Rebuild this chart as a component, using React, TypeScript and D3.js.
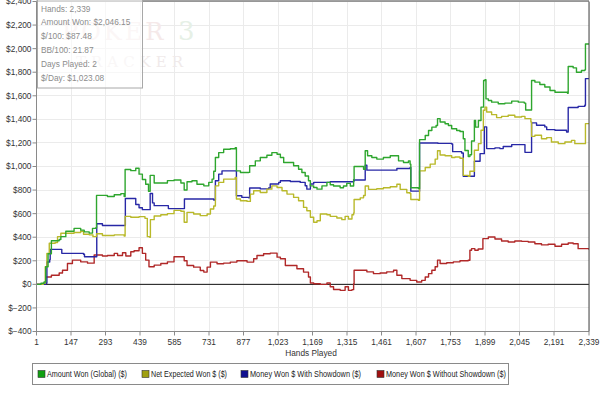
import React from 'react';
import * as d3 from 'd3';

// [hand, dollars]
const amountWon: [number, number][] = [
  [1,0],[20,10],[33,20],[40,150],[50,260],[64,370],[97,380],[104,405],[125,450],[160,475],[188,460],[203,445],[224,435],[238,475],[252,480],[255,755],[301,745],[330,760],[358,770],[372,745],[376,975],[400,965],[421,985],[435,935],[449,890],[463,850],[475,790],[482,925],[499,860],[527,860],[555,880],[583,885],[612,860],[626,800],[638,870],[659,879],[680,850],[709,836],[730,865],[744,893],[751,960],[758,1076],[772,1118],[793,1146],[821,1150],[842,1160],[847,963],[864,949],[899,950],[903,1006],[927,1048],[948,1076],[976,1095],[997,1118],[1019,1104],[1033,1076],[1047,1034],[1068,1034],[1089,1006],[1110,977],[1124,949],[1138,920],[1152,879],[1160,836],[1174,822],[1188,808],[1209,836],[1230,865],[1244,845],[1258,834],[1286,820],[1300,834],[1314,857],[1329,834],[1343,891],[1345,1000],[1378,1000],[1385,977],[1392,1134],[1402,1091],[1420,1077],[1441,1063],[1469,1077],[1498,1091],[1526,1091],[1533,1048],[1554,1034],[1575,1048],[1582,1020],[1585,820],[1617,812],[1622,1228],[1646,1263],[1660,1306],[1674,1334],[1692,1348],[1698,1406],[1709,1377],[1730,1363],[1744,1348],[1758,1320],[1779,1306],[1793,1297],[1807,1235],[1814,1136],[1828,1085],[1835,1100],[1842,1216],[1854,1390],[1859,1334],[1871,1390],[1882,1504],[1888,1504],[1893,1730],[1899,1736],[1903,1574],[1913,1560],[1927,1546],[1955,1532],[1983,1538],[2012,1555],[2040,1546],[2065,1538],[2071,1480],[2093,1480],[2096,1730],[2110,1716],[2131,1696],[2152,1674],[2174,1645],[2195,1630],[2223,1630],[2248,1622],[2251,1848],[2272,1837],[2286,1800],[2307,1814],[2321,1820],[2324,2040],[2339,2046],
];

const netExpected: [number, number][] = [
  [1,0],[30,10],[38,150],[45,263],[55,349],[80,355],[90,405],[104,434],[160,440],[188,450],[200,425],[224,420],[240,405],[255,430],[280,415],[330,420],[372,410],[376,577],[400,570],[435,575],[460,560],[470,405],[480,400],[483,549],[499,580],[527,590],[555,600],[583,628],[612,620],[626,527],[638,611],[666,597],[694,583],[723,597],[737,639],[751,665],[758,836],[772,865],[793,893],[821,893],[842,907],[847,724],[864,710],[892,704],[906,766],[920,794],[948,780],[976,808],[997,836],[1019,822],[1040,794],[1061,766],[1089,738],[1110,710],[1131,653],[1145,625],[1160,569],[1174,527],[1188,540],[1202,597],[1230,590],[1244,577],[1272,563],[1293,549],[1307,577],[1321,555],[1336,591],[1343,605],[1345,720],[1371,734],[1385,754],[1392,834],[1406,806],[1441,811],[1469,820],[1498,828],[1526,849],[1540,806],[1568,777],[1582,771],[1585,720],[1617,714],[1622,963],[1646,991],[1667,1020],[1688,1063],[1698,1134],[1709,1097],[1730,1091],[1758,1077],[1772,1081],[1793,1070],[1807,925],[1828,917],[1835,960],[1854,1138],[1871,1194],[1882,1307],[1892,1477],[1899,1504],[1906,1463],[1927,1440],[1948,1415],[1969,1425],[1997,1435],[2025,1420],[2054,1425],[2068,1406],[2093,1378],[2096,1256],[2110,1265],[2138,1236],[2160,1245],[2180,1208],[2209,1194],[2237,1208],[2265,1222],[2279,1194],[2314,1194],[2324,1364],[2339,1364],
];

const withShowdown: [number, number][] = [
  [1,0],[40,10],[45,190],[57,210],[59,297],[83,297],[108,263],[200,255],[204,234],[255,234],[256,514],[280,500],[376,500],[377,728],[405,728],[421,677],[435,650],[449,634],[481,634],[482,771],[492,691],[499,668],[556,668],[559,643],[626,643],[627,724],[751,716],[758,879],[772,935],[786,963],[842,963],[847,752],[870,738],[899,735],[903,817],[948,810],[983,817],[990,851],[1026,865],[1033,879],[1075,873],[1117,865],[1138,837],[1145,808],[1160,851],[1174,865],[1244,870],[1343,877],[1345,886],[1392,1011],[1399,969],[1455,969],[1526,983],[1582,991],[1585,791],[1617,791],[1622,1200],[1700,1196],[1758,1191],[1762,1126],[1800,1115],[1807,917],[1849,917],[1854,1044],[1874,1044],[1878,1109],[1892,1109],[1896,1336],[1903,1336],[1906,1152],[1941,1158],[1962,1152],[1976,1170],[2012,1186],[2065,1186],[2068,1120],[2093,1120],[2096,1370],[2117,1350],[2152,1336],[2160,1313],[2195,1307],[2244,1293],[2251,1500],[2293,1510],[2321,1520],[2324,1746],[2339,1740],
];

const withoutShowdown: [number, number][] = [
  [1,0],[30,5],[40,63],[64,77],[97,97],[111,120],[132,177],[153,206],[174,206],[188,191],[217,180],[245,249],[280,240],[301,245],[330,263],[344,245],[365,268],[379,240],[400,277],[414,285],[435,311],[449,263],[463,206],[477,149],[499,163],[527,177],[555,191],[583,234],[612,234],[626,200],[638,160],[666,146],[694,118],[709,104],[723,146],[737,189],[765,175],[793,180],[821,189],[849,200],[892,189],[920,217],[934,245],[962,260],[990,265],[1019,231],[1033,217],[1054,160],[1075,160],[1103,132],[1131,104],[1152,62],[1160,11],[1174,5],[1202,0],[1230,11],[1244,-20],[1258,-43],[1286,-51],[1307,-20],[1321,-51],[1336,-45],[1343,5],[1345,120],[1371,120],[1399,106],[1427,91],[1455,97],[1483,106],[1512,120],[1526,77],[1547,49],[1582,34],[1610,20],[1631,34],[1646,63],[1660,91],[1674,120],[1688,149],[1698,206],[1709,177],[1737,183],[1765,191],[1793,200],[1807,200],[1828,204],[1835,290],[1842,303],[1856,290],[1870,300],[1890,388],[1913,402],[1941,385],[1969,368],[1997,360],[2025,368],[2054,365],[2082,360],[2110,345],[2138,335],[2166,340],[2195,323],[2223,340],[2251,351],[2272,345],[2293,303],[2339,294],
];

const xTicks = [1, 147, 293, 439, 585, 731, 877, 1023, 1169, 1315, 1461, 1607, 1753, 1899, 2045, 2191, 2339];
const yTicks = [-400, -200, 0, 200, 400, 600, 800, 1000, 1200, 1400, 1600, 1800, 2000, 2200, 2400];

const seriesNames = ['Amount Won (Global) ($)', 'Net Expected Won $ ($)', 'Money Won $ With Showdown ($)', 'Money Won $ Without Showdown ($)'];
const seriesData = [amountWon, netExpected, withShowdown, withoutShowdown];
const lineColors = ['#2ea62e', '#b9b92a', '#2828a6', '#b02828'];
const swatchColors = ['#10a010', '#a0a010', '#101090', '#a01010'];

const infoLines = ['Hands: 2,339', 'Amount Won: $2,046.15', '$/100: $87.48', 'BB/100: 21.87', 'Days Played: 2', '$/Day: $1,023.08'];

const font = "'Liberation Sans', Arial, sans-serif";
const left = 36.5, right = 589, top = 1.5, bottom = 331.5;

export default function App() {
  const x = d3.scaleLinear().domain([1, 2339]).range([left, right]);
  const y = d3.scaleLinear().domain([-400, 2400]).range([bottom, top]);
  const line = d3.line<[number, number]>()
    .x(d => x(d[0]))
    .y(d => y(d[1]))
    .curve(d3.curveStepAfter);
  const fmt = (v: number) => '$' + d3.format(',')(v);
  const legendX = [38, 142, 241, 377];
  const legendW = [80, 76, 111, 120];

  return (
    <svg width={600} height={393} style={{ position: 'absolute', left: 0, top: 0 }} fontFamily={font}>
      <rect width={600} height={393} fill="#fff" />
      <defs>
        <clipPath id="plot"><rect x={left} y={top} width={right - left} height={bottom - top} /></clipPath>
      </defs>
      {/* grid */}
      <g stroke="#ebebeb" strokeWidth={1} shapeRendering="crispEdges">
        {xTicks.map(t => <line key={'gx' + t} x1={x(t)} x2={x(t)} y1={top} y2={bottom} />)}
        {yTicks.map(t => <line key={'gy' + t} x1={left} x2={right} y1={y(t)} y2={y(t)} />)}
      </g>
      {/* watermark */}
      <g fontFamily="'DejaVu Serif', serif">
        <text x={62} y={40} fontSize={24} fill="#f5e9e9" letterSpacing={3}>POKER</text>
        <text x={178} y={40} fontSize={26} fill="#e6f0e6">3</text>
        <text x={76} y={67} fontSize={15} fill="#f0eaea" letterSpacing={5}>TRACKER</text>
      </g>
      <line x1={left} x2={right} y1={y(0)} y2={y(0)} stroke="#111" strokeWidth={1} />
      <g clipPath="url(#plot)" fill="none" strokeWidth={1.4} strokeLinejoin="round">
        {seriesData.map((s, i) => (
          <path key={i} d={line(s) || ''} stroke={lineColors[i]} />
        )).reverse()}
      </g>
      {/* frame / axes */}
      <line x1={left} x2={left} y1={top} y2={bottom + 0.5} stroke="#8a8a8a" />
      <line x1={left} x2={right} y1={bottom} y2={bottom} stroke="#8a8a8a" />
      <line x1={right} x2={right} y1={top} y2={bottom} stroke="#444" />
      <line x1={left} x2={right} y1={1} y2={1} stroke="#444" />
      <g fontSize={8.3} fill="#333">
        {yTicks.map(t => (
          <g key={'yt' + t}>
            <line x1={left - 4} x2={left} y1={y(t)} y2={y(t)} stroke="#8a8a8a" />
            <text x={left - 5} y={y(t)} dy="0.35em" textAnchor="end">{fmt(t)}</text>
          </g>
        ))}
        {xTicks.map(t => (
          <g key={'xt' + t}>
            <line x1={x(t)} x2={x(t)} y1={bottom} y2={bottom + 4} stroke="#8a8a8a" />
            <text x={x(t)} y={bottom + 13} textAnchor="middle">{d3.format(',')(t)}</text>
          </g>
        ))}
        <text x={311} y={356} textAnchor="middle">Hands Played</text>
      </g>
      {/* info box */}
      <rect x={37.5} y={-2} width={105} height={90} fill="#fff" fillOpacity={0.6} stroke="#a8a8a8" />
      <g fontSize={8.3} fill="#8c8c8c">
        {infoLines.map((s, i) => <text key={s} x={41} y={11.5 + i * 13.9}>{s}</text>)}
      </g>
      {/* legend */}
      <rect x={32.5} y={363.5} width={476} height={21} fill="#fff" stroke="#8a8a8a" />
      <g fontSize={8.3} fill="#222">
        {seriesNames.map((n, i) => (
          <g key={n}>
            <rect x={legendX[i]} y={370.5} width={7} height={7} fill={swatchColors[i]} stroke="#333" strokeWidth={0.6} />
            <text x={legendX[i] + 9} y={377.3} textLength={legendW[i]} lengthAdjust="spacingAndGlyphs">{n}</text>
          </g>
        ))}
      </g>
    </svg>
  );
}
